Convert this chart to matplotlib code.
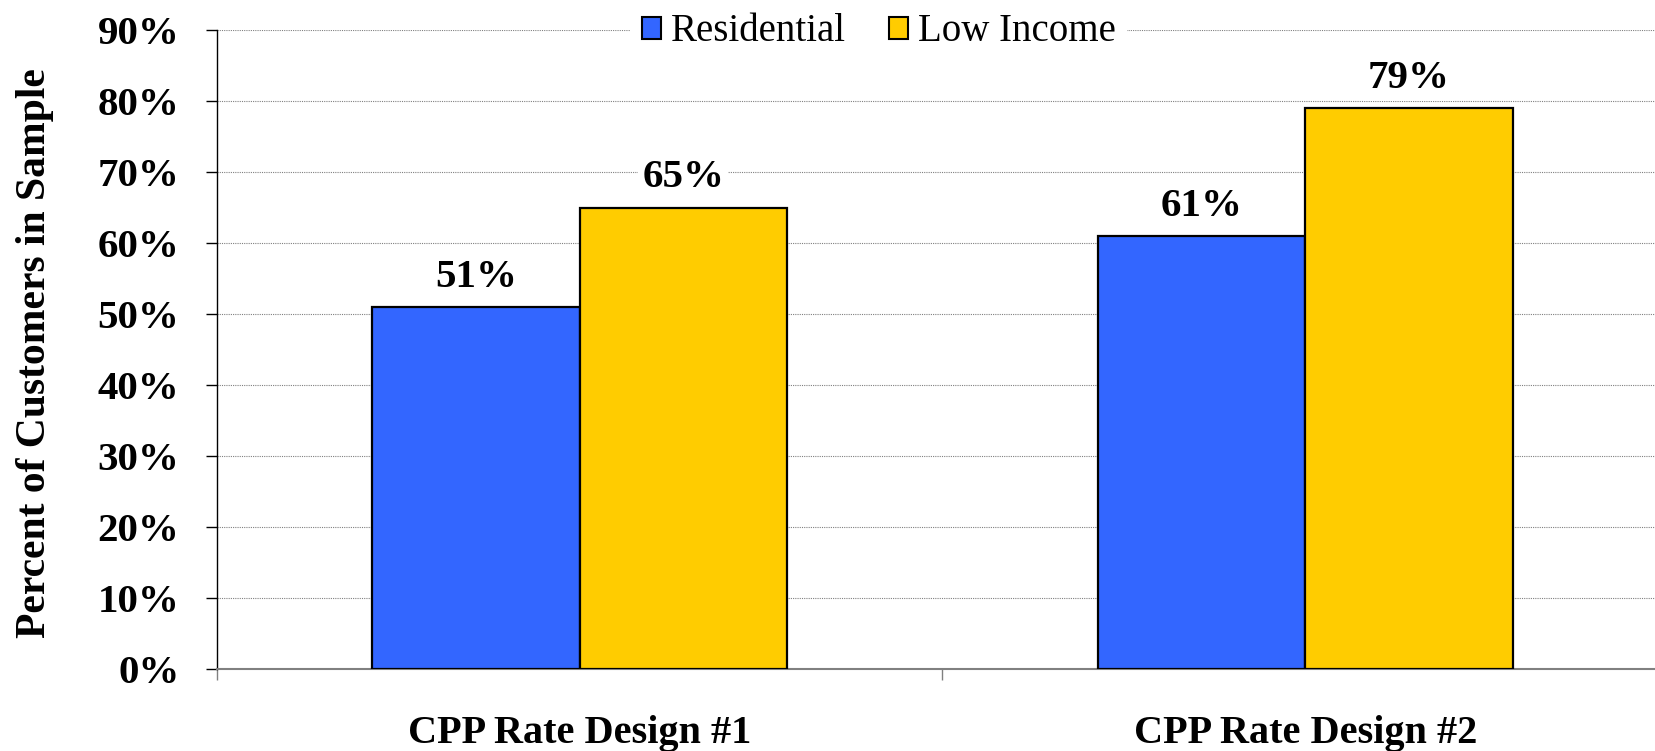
import numpy as np
import matplotlib
matplotlib.use("Agg")
import matplotlib.pyplot as plt
from matplotlib.patches import Patch

categories = ["CPP Rate Design #1", "CPP Rate Design #2"]
series_names = ["Residential", "Low Income"]
residential = [0.51, 0.61]
low_income = [0.65, 0.79]
colors = ["#3366FF", "#FFCC00"]

plt.rcParams["font.family"] = ["Liberation Serif", "DejaVu Serif"]

fig = plt.figure(figsize=(16.56, 7.51), dpi=100)
# plot area runs slightly off the right edge, like the source
ax = fig.add_axes([217 / 1656, 82 / 751, 1451 / 1656, 639 / 751])

x = np.arange(len(categories)) + 0.5
bw = 1 / 3.5  # excel gap width 150%
b1 = ax.bar(x - bw / 2, residential, bw, color=colors[0], edgecolor="black", linewidth=1.6, zorder=3)
b2 = ax.bar(x + bw / 2, low_income, bw, color=colors[1], edgecolor="black", linewidth=1.6, zorder=3)

for bars in (b1, b2):
    for rect in bars:
        h = rect.get_height()
        ax.annotate(f"{h * 100:.0f}%", (rect.get_x() + rect.get_width() / 2, h),
                    xytext=(0, 8), textcoords="offset points", ha="center", va="bottom",
                    fontsize=29.5, fontweight="bold", zorder=4,
                    bbox=dict(facecolor="white", edgecolor="none", pad=3))

ax.set_xlim(0, 2)
ax.set_ylim(0, 0.9)
ax.set_yticks(np.arange(0, 0.91, 0.1))
ax.set_yticklabels([f"{v}%" for v in range(0, 91, 10)], fontsize=29.5, fontweight="bold")
ax.tick_params(axis="y", length=8, width=1, color="black", pad=19)

ax.set_xticks([0, 1, 2])
ax.set_xticklabels([])
ax.tick_params(axis="x", which="major", length=8, width=1, color="#808080")
ax.set_xticks(x, minor=True)
ax.set_xticklabels(categories, minor=True, fontsize=29, fontweight="bold")
ax.tick_params(axis="x", which="minor", length=0, pad=33)

ax.yaxis.grid(True, linestyle=(0, (1, 1)), color="#808080", linewidth=0.8, zorder=0)
ax.set_axisbelow(True)
for s in ("top", "right"):
    ax.spines[s].set_visible(False)
ax.spines["left"].set_color("black")
ax.spines["left"].set_linewidth(1)
ax.spines["bottom"].set_color("#808080")
ax.spines["bottom"].set_linewidth(1.5)

ax.set_ylabel("Percent of Customers in Sample", fontsize=30, fontweight="bold")
ax.yaxis.set_label_coords(-0.112, 0.495)

handles = [Patch(facecolor=c, edgecolor="black", linewidth=1.5) for c in colors]
leg = ax.legend(handles, series_names, loc="center", bbox_to_anchor=(0.456, 0.997),
                ncol=2, fontsize=28, frameon=True, fancybox=False, framealpha=1,
                edgecolor="none", handlelength=0.5, handleheight=0.5,
                handletextpad=0.25, columnspacing=1.1, borderpad=0.3)
leg.set_zorder(5)

fig.savefig("out.png", dpi=100)
